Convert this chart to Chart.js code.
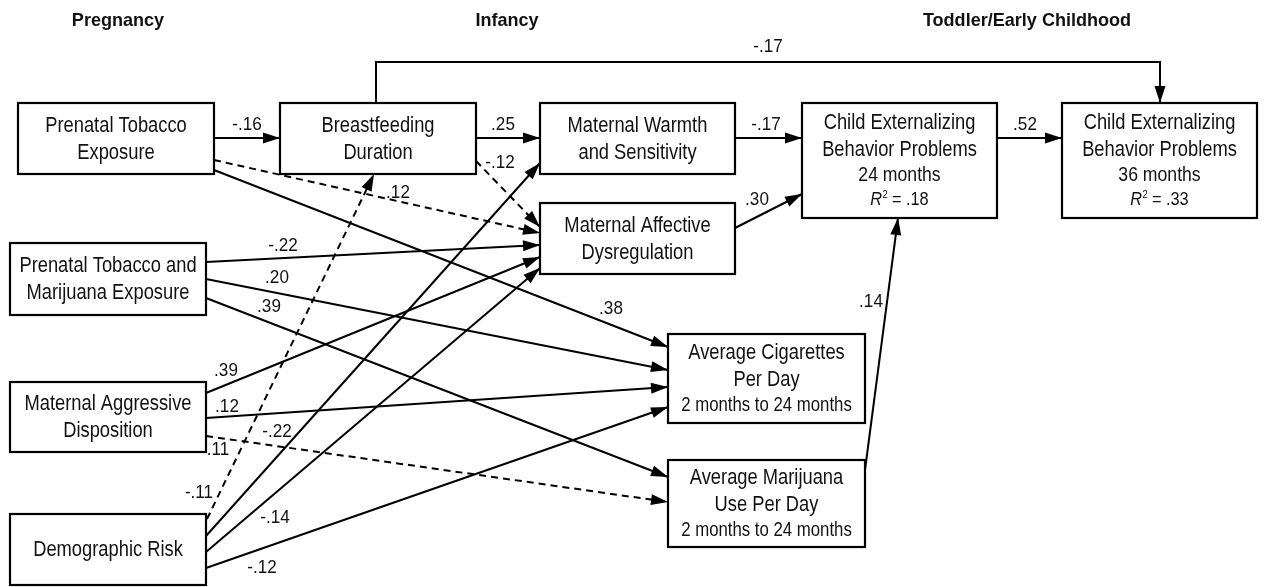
<!DOCTYPE html>
<html>
<head>
<meta charset="utf-8">
<title>Path model</title>
<style>
  html, body { margin: 0; padding: 0; background: #fff; }
  #wrap { width: 1266px; height: 587px; }
</style>
</head>
<body>
<div id="wrap"><canvas id="pathChart" width="1266" height="587"></canvas></div>
<script src="https://cdn.jsdelivr.net/npm/chart.js@4.4.1/dist/chart.umd.min.js"></script>
<script>
(function () {
  'use strict';

  // ---- data ----
  var periods = ['Pregnancy', 'Infancy', 'Toddler/Early Childhood'];

  // 0 PTE, 1 BF, 2 MWS, 3 CE24, 4 CE36, 5 MAD, 6 PTME, 7 MAgg, 8 DR, 9 Cig, 10 MJ
  var nodeTitles = [
    ['Prenatal Tobacco', 'Exposure'],
    ['Breastfeeding', 'Duration'],
    ['Maternal Warmth', 'and Sensitivity'],
    ['Child Externalizing', 'Behavior Problems'],
    ['Child Externalizing', 'Behavior Problems'],
    ['Maternal Affective', 'Dysregulation'],
    ['Prenatal Tobacco and', 'Marijuana Exposure'],
    ['Maternal Aggressive', 'Disposition'],
    ['Demographic Risk'],
    ['Average Cigarettes', 'Per Day'],
    ['Average Marijuana', 'Use Per Day']
  ];
  var nodeWave = ['', '', '', '24 months', '36 months', '', '', '', '', '2 months to 24 months', '2 months to 24 months'];
  var nodeR2 = [null, null, null, 0.18, 0.33, null, null, null, null, null, null];

  var pathFrom = [0, 1, 2, 3, 1, 1, 0, 0, 6, 6, 6, 7, 7, 7, 8, 8, 8, 8, 10, 5];
  var pathTo   = [1, 2, 3, 4, 4, 5, 5, 9, 5, 9, 10, 5, 9, 10, 1, 2, 5, 9, 3, 3];
  var pathCoef = [-0.16, 0.25, -0.17, 0.52, -0.17, -0.12, 0.12, 0.38, -0.22, 0.20, 0.39, 0.39, 0.12, 0.11, -0.11, -0.22, -0.14, -0.12, 0.14, 0.30];
  var pathSig  = [true, true, true, true, true, false, false, true, true, true, true, true, true, false, false, true, true, true, true, true];

  // ---- layout (pixel units on the hidden linear scales) ----
  var periodX = [118, 507, 1027];
  var periodY = 21;

  var nodeBox = [
    [18, 103, 196, 71], [280, 103, 196, 71], [540, 103, 195, 71],
    [802, 103, 195, 115], [1062, 103, 195, 115], [540, 203, 195, 71],
    [10, 243, 196, 72], [10, 382, 196, 70], [10, 514, 196, 71],
    [668, 334, 197, 89], [668, 460, 197, 87]
  ];
  var waveSize = [0, 0, 0, 20.5, 20.5, 0, 0, 0, 0, 19.5, 19.5];

  var pathRoute = [
    [[214, 138], [280, 138]],
    [[476, 138], [540, 138]],
    [[735, 138], [802, 138]],
    [[997, 138], [1062, 138]],
    [[376, 103], [376, 62], [1160, 62], [1160, 103]],
    [[476, 161], [540, 227]],
    [[214, 160], [540, 233]],
    [[214, 170], [668, 347]],
    [[206, 262], [540, 245]],
    [[206, 279], [668, 370]],
    [[206, 298], [668, 477]],
    [[206, 393], [540, 257]],
    [[206, 418], [668, 387]],
    [[206, 436], [668, 502]],
    [[207, 519], [374, 174]],
    [[206, 536], [540, 163]],
    [[206, 552], [540, 268]],
    [[206, 568], [668, 407]],
    [[865, 470], [898, 218]],
    [[735, 228], [802, 194]]
  ];

  var labelAt = [
    [247, 125], [503, 125], [766, 125], [1025, 125], [768, 47],
    [500, 163], [398, 193], [611, 309], [283, 246], [277, 278],
    [269, 307], [226, 371], [227, 407], [218, 450], [199, 493],
    [277, 432], [275, 518], [262, 568], [871, 302], [757, 200]
  ];

  var FONT = "'Liberation Sans', Arial, Helvetica, sans-serif";
  var SQUEEZE = 0.86;

  function fmtCoef(v) {
    return (v < 0 ? '-' : '') + Math.abs(v).toFixed(2).slice(1);
  }

  function squeezeText(ctx, str, x, y, font, k) {
    ctx.font = font;
    var w = ctx.measureText(str).width;
    ctx.fillText(str, x, y, w * k);
    return w * k;
  }

  var datasets = pathRoute.map(function (route, i) {
    return {
      label: nodeTitles[pathFrom[i]].join(' ') + ' -> ' + nodeTitles[pathTo[i]].join(' '),
      data: route.map(function (p) { return { x: p[0], y: p[1] }; }),
      borderColor: '#000',
      borderWidth: 2,
      borderDash: pathSig[i] ? [] : [7, 5],
      borderCapStyle: 'butt',
      borderJoinStyle: 'miter',
      pointRadius: 0,
      tension: 0,
      fill: false,
      clip: false
    };
  });

  var diagramPlugin = {
    id: 'diagram',
    afterDatasetsDraw: function (chart) {
      var ctx = chart.ctx;
      var sx = chart.scales.x, sy = chart.scales.y;
      var X = function (v) { return sx.getPixelForValue(v); };
      var Y = function (v) { return sy.getPixelForValue(v); };

      ctx.save();
      ctx.fillStyle = '#000';

      // arrowheads
      chart.data.datasets.forEach(function (ds, i) {
        var pts = chart.getDatasetMeta(i).data;
        var a = pts[pts.length - 2], b = pts[pts.length - 1];
        var ang = Math.atan2(b.y - a.y, b.x - a.x);
        var len = 17, half = 5.5;
        ctx.beginPath();
        ctx.moveTo(b.x, b.y);
        ctx.lineTo(b.x - len * Math.cos(ang) + half * Math.sin(ang), b.y - len * Math.sin(ang) - half * Math.cos(ang));
        ctx.lineTo(b.x - len * Math.cos(ang) - half * Math.sin(ang), b.y - len * Math.sin(ang) + half * Math.cos(ang));
        ctx.closePath();
        ctx.fill();
      });

      // boxes
      nodeBox.forEach(function (bx, i) {
        var x0 = X(bx[0]), y0 = Y(bx[1]), x1 = X(bx[0] + bx[2]), y1 = Y(bx[1] + bx[3]);
        ctx.fillStyle = '#fff';
        ctx.fillRect(x0, y0, x1 - x0, y1 - y0);
        ctx.strokeStyle = '#000';
        ctx.lineWidth = 2.2;
        ctx.setLineDash([]);
        ctx.strokeRect(x0, y0, x1 - x0, y1 - y0);

        // text lines
        var lines = nodeTitles[i].map(function (t) { return { t: t, kind: 'main' }; });
        if (nodeWave[i]) lines.push({ t: nodeWave[i], kind: 'sub' });
        if (nodeR2[i] !== null) lines.push({ t: fmtCoef(nodeR2[i]), kind: 'r2' });
        var gaps = [];
        for (var k = 1; k < lines.length; k++) gaps.push(lines[k].kind === 'main' ? 27 : (k === 2 ? 25 : 24));
        var total = gaps.reduce(function (s, g) { return s + g; }, 0);
        var cx = (x0 + x1) / 2;
        var cy = (y0 + y1) / 2 + 1 - total / 2;
        ctx.fillStyle = '#111';
        ctx.textBaseline = 'middle';
        lines.forEach(function (ln, k) {
          if (k > 0) cy += gaps[k - 1];
          if (ln.kind === 'main') {
            ctx.textAlign = 'center';
            squeezeText(ctx, ln.t, cx, cy, '21.3px ' + FONT, SQUEEZE);
          } else if (ln.kind === 'sub') {
            ctx.textAlign = 'center';
            squeezeText(ctx, ln.t, cx, cy, waveSize[i] + 'px ' + FONT, SQUEEZE);
          } else {
            var fR = 'italic 19px ' + FONT, f2 = '11px ' + FONT, fE = '19px ' + FONT;
            ctx.font = fR; var wR = ctx.measureText('R').width * SQUEEZE;
            ctx.font = f2; var w2 = ctx.measureText('2').width * SQUEEZE;
            var rest = ' = ' + ln.t;
            ctx.font = fE; var wE = ctx.measureText(rest).width * SQUEEZE;
            var sx0 = cx - (wR + w2 + wE) / 2;
            ctx.textAlign = 'left';
            squeezeText(ctx, 'R', sx0, cy, fR, SQUEEZE);
            squeezeText(ctx, '2', sx0 + wR + 0.5, cy - 5, f2, SQUEEZE);
            squeezeText(ctx, rest, sx0 + wR + w2, cy, fE, SQUEEZE);
          }
        });
      });

      // coefficients
      ctx.fillStyle = '#111';
      ctx.textAlign = 'center';
      ctx.textBaseline = 'middle';
      pathCoef.forEach(function (c, i) {
        squeezeText(ctx, fmtCoef(c), X(labelAt[i][0]), Y(labelAt[i][1]), '19px ' + FONT, 0.9);
      });

      // period headings
      periods.forEach(function (p, i) {
        squeezeText(ctx, p, X(periodX[i]), Y(periodY), 'bold 19px ' + FONT, 0.95);
      });

      ctx.restore();
    }
  };

  new Chart(document.getElementById('pathChart'), {
    type: 'line',
    data: { datasets: datasets },
    options: {
      responsive: false,
      maintainAspectRatio: false,
      animation: false,
      devicePixelRatio: 1,
      layout: { padding: 0 },
      plugins: { legend: { display: false }, tooltip: { enabled: false } },
      scales: {
        x: { type: 'linear', min: 0, max: 1266, display: false },
        y: { type: 'linear', min: 0, max: 587, reverse: true, display: false }
      }
    },
    plugins: [diagramPlugin]
  });
})();
</script>
</body>
</html>
